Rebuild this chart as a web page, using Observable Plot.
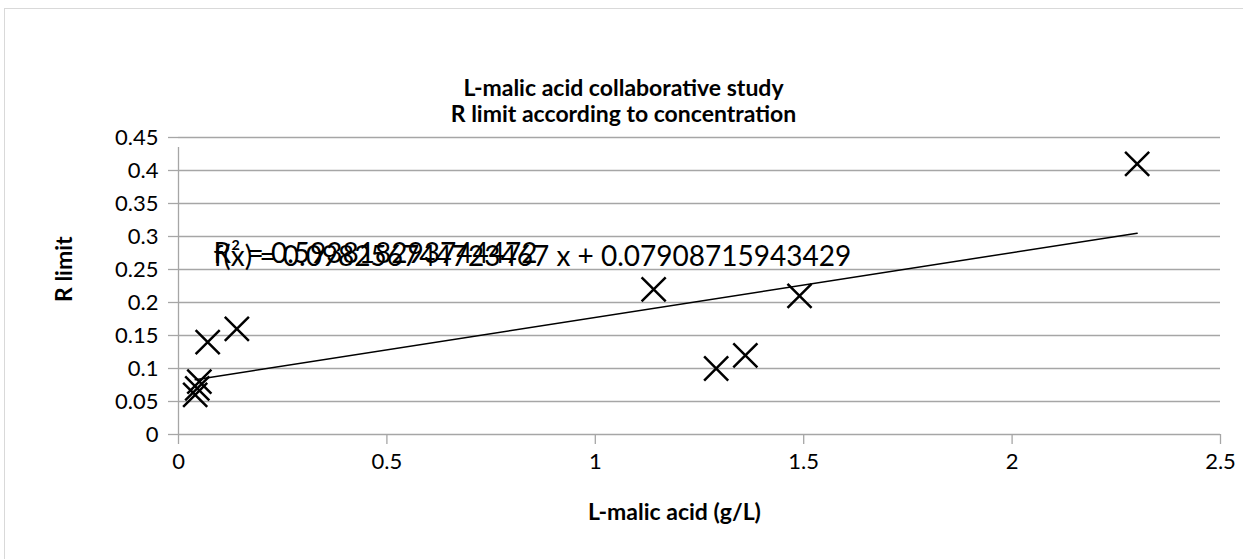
<!DOCTYPE html>
<html>
<head>
<meta charset="utf-8">
<script src="https://cdn.jsdelivr.net/npm/d3@7"></script>
<script src="https://cdn.jsdelivr.net/npm/@observablehq/plot@0.6"></script>
<style>
  html, body { margin: 0; padding: 0; background: #fff; }
  #wrap { position: relative; width: 1243px; height: 559px; overflow: hidden; }
  #border { position: absolute; left: 4px; top: 8px; width: 1260px; height: 600px; border: 1.5px solid #d9d9d9; box-sizing: border-box; }
  #chart { position: absolute; left: 0; top: 0; }
</style>
</head>
<body>
<div id="wrap"><div id="border"></div><div id="chart"></div></div>
<script>
// Data
const malicAcid = [0.04, 0.045, 0.05, 0.07, 0.14, 1.14, 1.29, 1.36, 1.49, 2.30];
const rLimit    = [0.06, 0.07, 0.08, 0.14, 0.16, 0.22, 0.10, 0.12, 0.21, 0.41];
const xTicks = [0, 0.5, 1, 1.5, 2, 2.5];
const xTickLabels = ["0", "0.5", "1", "1.5", "2", "2.5"];
const yTicks = [0, 0.05, 0.1, 0.15, 0.2, 0.25, 0.3, 0.35, 0.4, 0.45];
const yTickLabels = ["0", "0.05", "0.1", "0.15", "0.2", "0.25", "0.3", "0.35", "0.4", "0.45"];
const titleLines = ["L-malic acid collaborative study", "R limit according to concentration"];
const xLabel = "L-malic acid (g/L)";
const yLabel = "R limit";
const equationText = "f(x) = 0.098256744723467 x + 0.07908715943429";
const r2Text = "R² = 0.593818293744472";

const points = malicAcid.map((x, i) => ({x, y: rLimit[i]}));
const grid = "#a6a6a6";
const font = "Lato, 'Open Sans', sans-serif";

const chart = Plot.plot({
  width: 1243,
  height: 559,
  marginLeft: 178,
  marginRight: 23,
  marginTop: 137,
  marginBottom: 125,
  style: {fontFamily: font, fontSize: "22px", color: "#000", background: "transparent"},
  x: {domain: [0, 2.5]},
  y: {domain: [0, 0.45]},
  marks: [
    Plot.ruleY(yTicks, {stroke: grid, strokeWidth: 1.3}),
    Plot.ruleX([0], {y1: 0, y2: 0.45, stroke: grid, strokeWidth: 1.3, insetBottom: -10}),
    Plot.axisY({ticks: yTicks, tickFormat: (d) => yTickLabels[yTicks.indexOf(d)], tickSize: 10, tickPadding: 10, stroke: grid, strokeWidth: 1.3, fill: "#000", label: null, fontSize: 22}),
    Plot.axisX({ticks: xTicks, tickFormat: (d) => xTickLabels[xTicks.indexOf(d)], tickSize: 10, tickPadding: 9, stroke: grid, strokeWidth: 1.3, fill: "#000", label: null, fontSize: 22}),
    Plot.linearRegressionY(points, {x: "x", y: "y", ci: 0, stroke: "#000", strokeWidth: 1.5}),
    Plot.dot(points, {x: "x", y: "y", symbol: "times", r: 11, stroke: "#000", strokeWidth: 2.5}),
    Plot.text([r2Text], {frameAnchor: "top-left", lineAnchor: "middle", dx: 35, dy: 117, textAnchor: "start", fontSize: 28, fill: "#000"}),
    Plot.text([equationText], {frameAnchor: "top-left", lineAnchor: "middle", dx: 35, dy: 120, textAnchor: "start", fontSize: 28, fill: "#000"}),
    Plot.text([titleLines[0]], {frameAnchor: "top", lineAnchor: "middle", dx: -76, dy: -49, fontSize: 23, fontWeight: "bold", fill: "#000"}),
    Plot.text([titleLines[1]], {frameAnchor: "top", lineAnchor: "middle", dx: -76, dy: -23, fontSize: 23, fontWeight: "bold", fill: "#000"}),
    Plot.text([xLabel], {frameAnchor: "bottom", lineAnchor: "middle", dx: -25, dy: 78, fontSize: 23, fontWeight: "bold", fill: "#000"}),
    Plot.text([yLabel], {frameAnchor: "left", lineAnchor: "middle", dx: -114, dy: 16, rotate: -90, fontSize: 23, fontWeight: "bold", fill: "#000"})
  ]
});
document.getElementById("chart").appendChild(chart);
</script>
</body>
</html>
